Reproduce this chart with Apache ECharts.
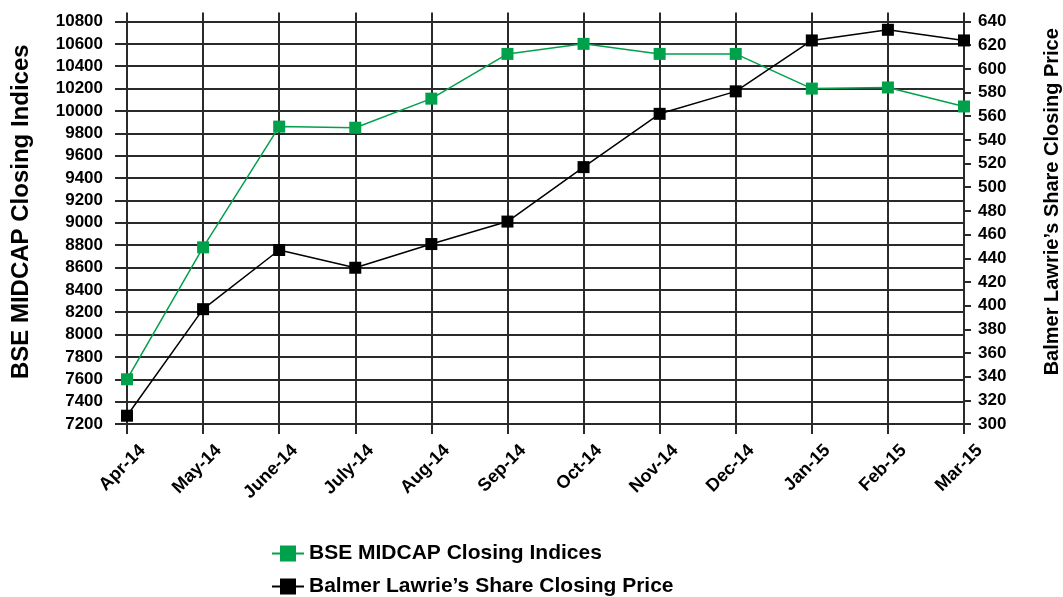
<!DOCTYPE html>
<html>
<head>
<meta charset="utf-8">
<script src="https://cdn.jsdelivr.net/npm/echarts@6/dist/echarts.min.js"></script>
<style>
html,body{margin:0;padding:0;background:#fff;}
#chart{width:1063px;height:597px;}
</style>
</head>
<body>
<div id="chart"></div>
<script>
var categories = ['Apr-14','May-14','June-14','July-14','Aug-14','Sep-14','Oct-14','Nov-14','Dec-14','Jan-15','Feb-15','Mar-15'];
var bseMidcap = [7600, 8780, 9860, 9850, 10110, 10510, 10600, 10510, 10510, 10200, 10210, 10040];
var balmerLawrie = [307, 397, 447, 432, 452, 471, 517, 562, 581, 624, 633, 624];
var leftTicks = {min: 7200, max: 10800, interval: 200};
var rightTicks = {min: 300, max: 640, interval: 20};

var font = 'Liberation Sans, Arial, sans-serif';
var lineCol = '#2a2a2a';
var chart = echarts.init(document.getElementById('chart'));
chart.setOption({
  animation: false,
  grid: {left: 127, right: 99, top: 21.5, bottom: 173, containLabel: false, outerBoundsMode: 'none'},
  legend: {
    orient: 'vertical', left: 271, top: 543, itemGap: 12, padding: 0,
    itemWidth: 32, itemHeight: 20,
    textStyle: {fontFamily: font, fontWeight: 'bold', fontSize: 21, color: '#000'},
    data: ['BSE MIDCAP Closing Indices', 'Balmer Lawrie\u2019s Share Closing Price']
  },
  xAxis: [{
    type: 'category', data: categories, boundaryGap: false,
    axisLine: {lineStyle: {color: lineCol, width: 2}},
    axisTick: {show: true, length: 10, lineStyle: {color: lineCol, width: 2}},
    splitLine: {show: true, lineStyle: {color: lineCol, width: 2}},
    axisLabel: {rotate: 45, fontFamily: font, fontWeight: 'bold', fontSize: 18, color: '#000', margin: 8,
      verticalAlign: 'top', padding: [13, 0, 0, 0]}
  }, {
    type: 'category', data: categories, boundaryGap: false, position: 'top',
    axisLine: {show: false},
    axisTick: {show: true, length: 9, lineStyle: {color: lineCol, width: 2}},
    axisLabel: {show: false},
    splitLine: {show: false}
  }],
  yAxis: [{
    type: 'value', min: leftTicks.min, max: leftTicks.max, interval: leftTicks.interval,
    name: 'BSE MIDCAP Closing Indices', nameLocation: 'middle', nameGap: 94, nameRotate: 90,
    nameTextStyle: {fontFamily: font, fontWeight: 'bold', fontSize: 24, color: '#000', padding: [0,0,0,22]},
    axisLine: {show: true, lineStyle: {color: lineCol, width: 2}},
    axisTick: {show: true, length: 12, lineStyle: {color: lineCol, width: 2}},
    splitLine: {show: true, lineStyle: {color: lineCol, width: 2}},
    axisLabel: {fontFamily: font, fontWeight: 'bold', fontSize: 17, color: '#000', margin: 24,
      formatter: function (v) { return String(v); }}
  }, {
    type: 'value', min: rightTicks.min, max: rightTicks.max, interval: rightTicks.interval,
    name: 'Balmer Lawrie\u2019s Share Closing Price', nameLocation: 'middle', nameGap: 78, nameRotate: 90,
    nameTextStyle: {fontFamily: font, fontWeight: 'bold', fontSize: 20, color: '#000', padding: [0,0,0,42]},
    position: 'right',
    axisLine: {show: true, lineStyle: {color: lineCol, width: 2}},
    axisTick: {show: true, length: 7, lineStyle: {color: lineCol, width: 2}},
    splitLine: {show: false},
    axisLabel: {fontFamily: font, fontWeight: 'bold', fontSize: 17, color: '#000', margin: 14,
      formatter: function (v) { return String(v); }}
  }],
  series: [{
    name: 'BSE MIDCAP Closing Indices', type: 'line', yAxisIndex: 0, data: bseMidcap,
    symbol: 'rect', symbolSize: 12,
    lineStyle: {color: '#00A14B', width: 1.5},
    itemStyle: {color: '#00A14B'}
  }, {
    name: 'Balmer Lawrie\u2019s Share Closing Price', type: 'line', yAxisIndex: 1, data: balmerLawrie,
    symbol: 'rect', symbolSize: 12,
    lineStyle: {color: '#000', width: 1.5},
    itemStyle: {color: '#000'}
  }]
});
</script>
</body>
</html>
